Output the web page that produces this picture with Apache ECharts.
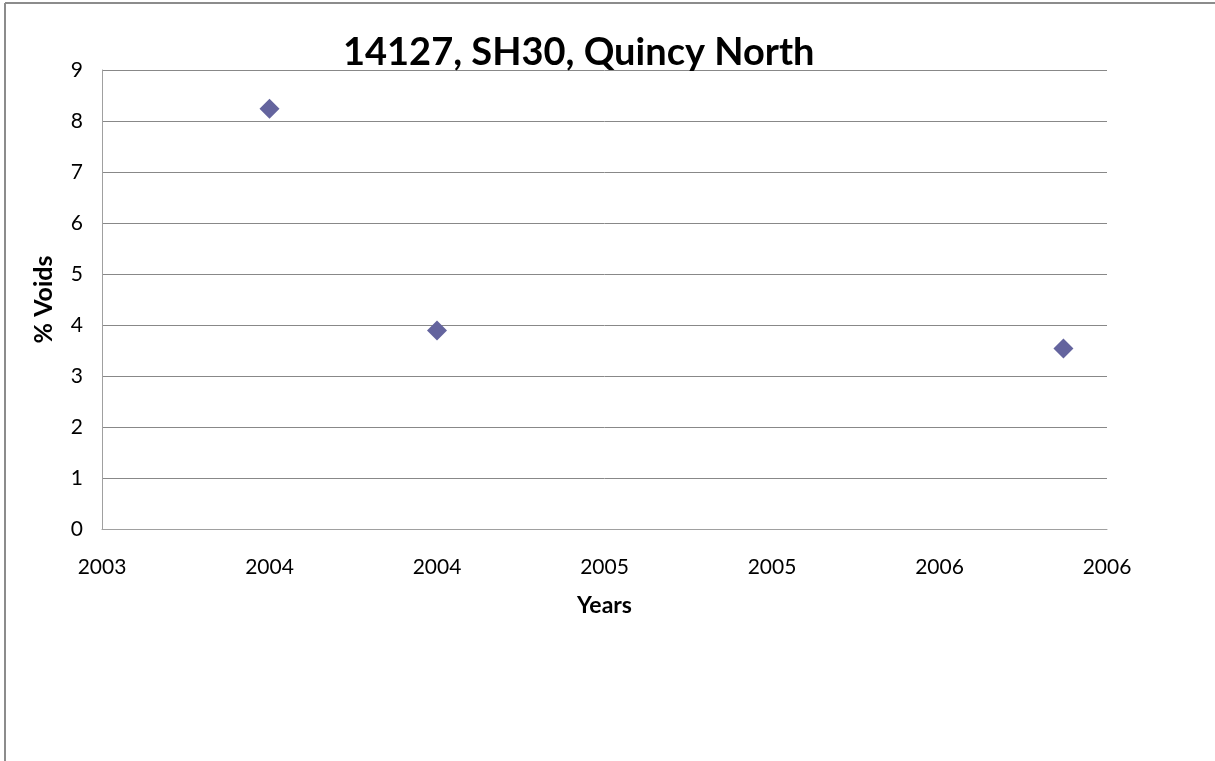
<!DOCTYPE html>
<html>
<head>
<meta charset="utf-8">
<title>14127, SH30, Quincy North</title>
<script src="https://cdn.jsdelivr.net/npm/echarts@6/dist/echarts.min.js"></script>
<style>
  html, body { margin: 0; padding: 0; background: #fff; }
  #chart { width: 1215px; height: 761px; }
</style>
</head>
<body>
<div id="chart"></div>
<script>
// 数据：年份（小数年）和空隙率
const years = [2004.0, 2004.5, 2006.37]
const voids = [8.24, 3.89, 3.54]
const titleText = '14127, SH30, Quincy North'
const xName = 'Years'
const yName = '% Voids'

const points = years.map(function (y, i) { return [y, voids[i]] })

const myChart = echarts.init(document.getElementById('chart'))
const font = 'Lato, "Open Sans", sans-serif'
const option = {
  backgroundColor: '#fff',
  animation: false,
  title: {
    text: titleText,
    left: 338,
    top: 29,
    textStyle: { fontFamily: font, fontSize: 38, fontWeight: 'bold', color: '#000' }
  },
  graphic: [
    // 外框（只看得到左边和上边）
    {
      type: 'line',
      shape: { x1: 5, y1: 3, x2: 1215, y2: 3 },
      style: { stroke: '#8c8c8c', lineWidth: 2 },
      silent: true
    },
    {
      type: 'line',
      shape: { x1: 5, y1: 3, x2: 5, y2: 761 },
      style: { stroke: '#8c8c8c', lineWidth: 2 },
      silent: true
    }
  ],
  grid: { left: 102, top: 70, right: 108, bottom: 232 },
  xAxis: {
    type: 'value',
    min: 2003.5,
    max: 2006.5,
    interval: 0.5,
    name: xName,
    nameLocation: 'middle',
    nameGap: 65,
    nameTextStyle: { fontFamily: font, fontSize: 23, fontWeight: 'bold', color: '#000' },
    axisLine: { show: true, lineStyle: { color: '#a0a0a0', width: 1 } },
    axisTick: { show: false },
    splitLine: { show: false },
    axisLabel: {
      fontFamily: font, fontSize: 21, color: '#000', margin: 28,
      formatter: function (v) { return String(Math.floor(v + 1e-9)) }
    }
  },
  yAxis: {
    type: 'value',
    min: 0,
    max: 9,
    interval: 1,
    name: yName,
    nameLocation: 'middle',
    nameRotate: 90,
    nameGap: 46,
    nameTextStyle: { fontFamily: font, fontSize: 25, fontWeight: 'bold', color: '#000' },
    axisLine: { show: true, lineStyle: { color: '#a0a0a0', width: 1 } },
    axisTick: { show: false },
    splitLine: { show: true, lineStyle: { color: '#888888', width: 1 } },
    axisLabel: { fontFamily: font, fontSize: 21, color: '#000', margin: 19 }
  },
  series: [
    {
      type: 'scatter',
      data: points,
      symbol: 'diamond',
      symbolSize: 20,
      itemStyle: { color: '#64649e', opacity: 1 }
    }
  ]
}
myChart.setOption(option)
</script>
</body>
</html>
